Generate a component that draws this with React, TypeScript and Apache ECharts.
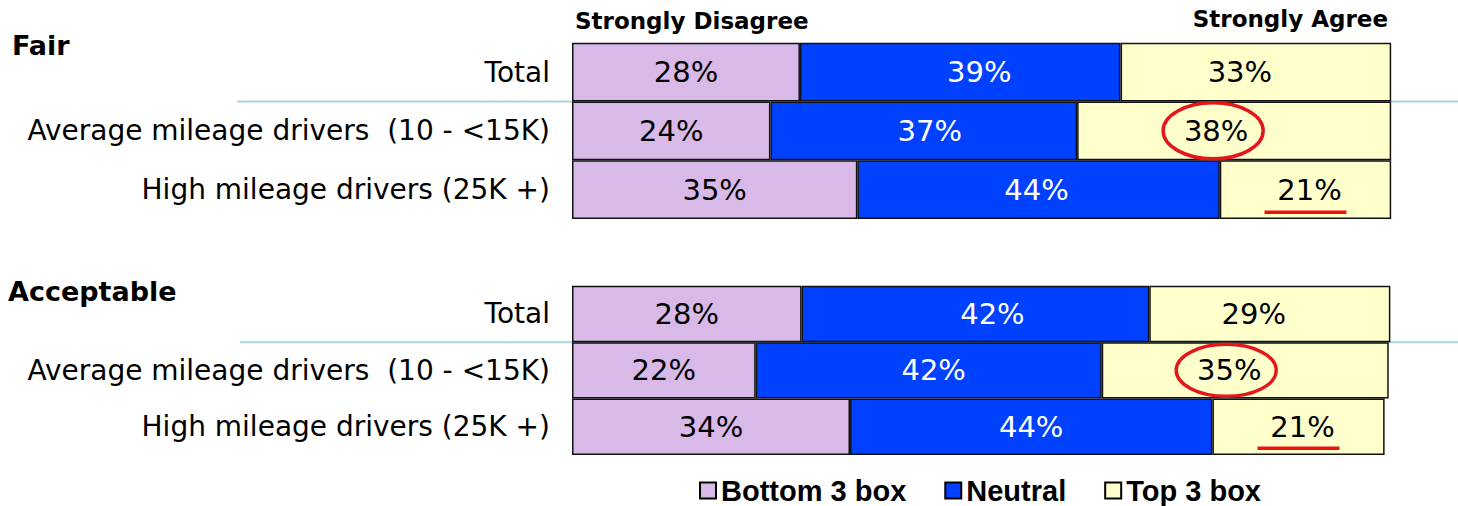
import React, { useEffect, useRef } from 'react';
import * as echarts from 'echarts';

const categories = ['Total', 'Average mileage drivers  (10 - <15K)', 'High mileage drivers (25K +)'];
const seriesNames = ['Bottom 3 box', 'Neutral', 'Top 3 box'];
const panelTitles = ['Fair', 'Acceptable'];

const fairBottom = [27.8, 24.2, 34.8];
const fairNeutral = [39.1, 37.4, 44.2];
const fairTop = [33.0, 38.3, 20.9];

const accBottom = [28.0, 22.4, 33.9];
const accNeutral = [42.4, 42.2, 44.2];
const accTop = [29.4, 35.0, 21.0];

// highlighted cells: [row index, series index]
const circled = [1, 2];
const underlined = [2, 2];

export default function App() {
  const ref = useRef<HTMLDivElement>(null);

  useEffect(() => {
    const chart = echarts.init(ref.current!, null, { renderer: 'svg' });
    const colors = ['#D8B9E8', '#0040FF', '#FFFFCC'];
    const labelColors = ['#000', '#fff', '#000'];
    // label horizontal shifts [row][series] per panel
    const shifts = [
      [[0, 19, -16], [0, 6, -18], [0, -2, 4]],
      [[0, 17, -16], [0, 5, -16], [0, 0, 4]],
    ];
    const panels = [
      [fairBottom, fairNeutral, fairTop],
      [accBottom, accNeutral, accTop],
    ];
    const grids = [
      { left: 572, width: 820, top: 42.7, height: 176.3 },
      { left: 572, width: 820, top: 285.7, height: 169.3 },
    ];
    const font = 'DejaVu Sans';
    const series: any[] = [];
    panels.forEach((p, gi) =>
      p.forEach((vals, si) =>
        series.push({
          type: 'bar',
          name: seriesNames[si],
          stack: 'panel' + gi,
          xAxisIndex: gi,
          yAxisIndex: gi,
          barWidth: '100%',
          data: vals.map((v, ri) => ({ value: v, label: { offset: [shifts[gi][ri][si], 0] } })),
          itemStyle: { color: colors[si], borderColor: '#111', borderWidth: 1.5 },
          label: {
            show: true,
            position: 'inside',
            formatter: (pr: any) => Math.round(pr.value) + '%',
            color: labelColors[si],
            fontSize: 29,
            fontFamily: font,
          },
          emphasis: { disabled: true },
        })
      )
    );

    chart.setOption({
      animation: false,
      grid: grids,
      xAxis: grids.map((_, gi) => ({ type: 'value', gridIndex: gi, min: 0, max: 100, show: false })),
      yAxis: grids.map((_, gi) => ({
        type: 'category',
        gridIndex: gi,
        inverse: true,
        data: categories,
        axisLine: { show: false },
        axisTick: { show: false },
        splitLine: { show: false },
        axisLabel: { fontSize: 28, color: '#000', margin: 22, fontFamily: font, padding: [0, 0, 6, 0] },
      })),
      legend: {
        data: seriesNames,
        left: 699,
        top: 476,
        padding: 0,
        itemWidth: 16,
        itemHeight: 16,
        itemGap: 38,
        icon: 'rect',
        itemStyle: { borderColor: '#000', borderWidth: 2 },
        textStyle: { fontFamily: 'Liberation Sans', fontWeight: 'bold', fontSize: 29, lineHeight: 29, color: '#000' },
        selectedMode: false,
      },
      series,
    });

    const graphics: any[] = [];
    panels.forEach((p, gi) => {
      const finder = { xAxisIndex: gi, yAxisIndex: gi };
      const y0 = chart.convertToPixel(finder, [0, 0])[1];
      const y1 = chart.convertToPixel(finder, [0, 1])[1];
      const yb = (y0 + y1) / 2;
      graphics.push({
        type: 'line',
        z: 0,
        shape: { x1: gi === 0 ? 237 : 240, y1: yb, x2: 1458, y2: yb },
        style: { stroke: '#A8D8DC', lineWidth: 2 },
      });
      const segCenter = (ri: number, si: number) => {
        let start = 0;
        for (let k = 0; k < si; k++) start += p[k][ri];
        const val = start + p[si][ri] / 2;
        const pt = chart.convertToPixel(finder, [val, ri]);
        return [pt[0] + shifts[gi][ri][si], pt[1]];
      };
      const c = segCenter(circled[0], circled[1]);
      graphics.push({
        type: 'ellipse',
        z: 100,
        shape: { cx: c[0] - 3, cy: c[1], rx: 50, ry: gi === 0 ? 28 : 26 },
        style: { fill: 'none', stroke: '#E2161C', lineWidth: 3.5 },
      });
      const u = segCenter(underlined[0], underlined[1]);
      const rowH = y1 - y0;
      graphics.push({
        type: 'rect',
        z: 100,
        shape: { x: u[0] - 45, y: u[1] + rowH / 2 - 8.5, width: 82, height: 3.5 },
        style: { fill: '#F01010' },
      });
      graphics.push({
        type: 'text',
        z: 100,
        x: gi === 0 ? 12 : 8,
        y: gi === 0 ? 45 : 291,
        style: {
          text: panelTitles[gi],
          fontSize: 27,
          fontWeight: 'bold',
          fontFamily: font,
          fill: '#000',
          verticalAlign: 'middle',
        },
      });
    });
    graphics.push({
      type: 'text',
      z: 100,
      x: 575,
      y: 21,
      style: { text: 'Strongly Disagree', fontSize: 23, fontWeight: 'bold', fontFamily: font, fill: '#000', verticalAlign: 'middle' },
    });
    graphics.push({
      type: 'text',
      z: 100,
      x: 1388,
      y: 19,
      style: { text: 'Strongly Agree', fontSize: 23, fontWeight: 'bold', fontFamily: font, fill: '#000', align: 'right', verticalAlign: 'middle' },
    });
    chart.setOption({ graphic: graphics });

    return () => chart.dispose();
  }, []);

  return (
    <div
      ref={ref}
      style={{ position: 'fixed', left: 0, top: 0, width: 1458, height: 506, background: '#fff' }}
    />
  );
}
